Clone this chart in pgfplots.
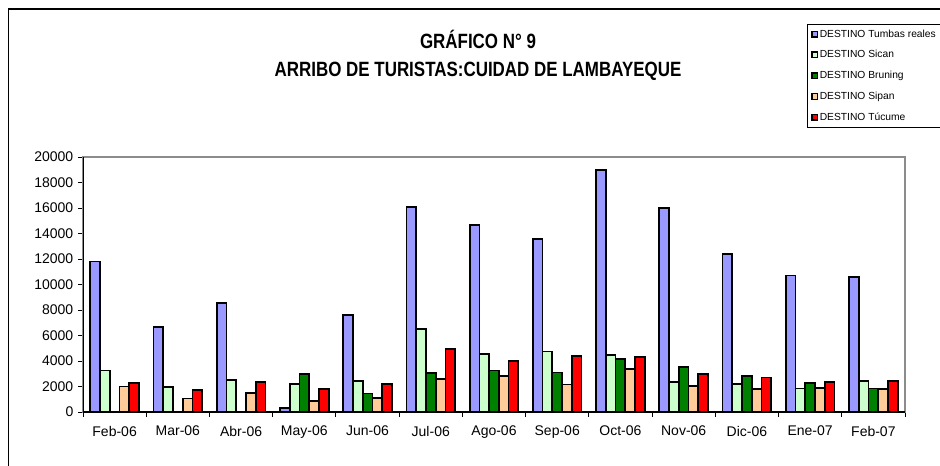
\documentclass[border=0pt]{standalone}
\usepackage{fontspec}
\setmainfont{Liberation Sans}
\newfontfamily\titlefont[FakeStretch=0.82]{Liberation Sans}
\usepackage{pgfplots}
\pgfplotsset{compat=1.18}
\definecolor{cTum}{HTML}{9999FF}
\definecolor{cSic}{HTML}{CCFFCC}
\definecolor{cBru}{HTML}{008000}
\definecolor{cSip}{HTML}{FFCC99}
\definecolor{cTuc}{HTML}{FF0000}
\begin{document}
\begin{tikzpicture}
\path[use as bounding box] (0pt,0pt) rectangle (705pt,348.75pt);
\fill[white] (0pt,0pt) rectangle (705pt,348.75pt);
\draw[black, line width=0.9pt] (6.5pt,-5pt) -- (6.5pt,342pt) -- (710pt,342pt);
\node[font=\titlefont\bfseries\fontsize{15.5}{21}\selectfont, align=center] at (358.5pt,307pt) {GRÁFICO N° 9\\ARRIBO DE TURISTAS:CUIDAD DE LAMBAYEQUE};
\begin{axis}[
  at={(62.25pt,39.75pt)}, anchor=south west,
  scale only axis, width=616.5pt, height=191.25pt,
  ybar=0pt, bar width=0.154,
  xmin=-0.5, xmax=12.5, ymin=0, ymax=20000,
  ytick={0,2000,...,20000},
  scaled y ticks=false,
  /pgf/number format/assume math mode=true,
  yticklabel style={/pgf/number format/fixed, /pgf/number format/1000 sep={}, font=\fontsize{10.5}{12}\selectfont},
  xtick={-0.5,0.5,...,12.5}, xticklabels={},
  extra x ticks={0,1,...,12},
  extra x tick labels={Feb-06,Mar-06,Abr-06,May-06,Jun-06,Jul-06,Ago-06,Sep-06,Oct-06,Nov-06,Dic-06,Ene-07,Feb-07},
  extra x tick style={major tick length=0pt, tick label style={font=\fontsize{10.5}{12}\selectfont, yshift=-7pt}},
  tick pos=left, tick align=outside, major tick length=3.75pt,
  tick style={black, line width=0.75pt},
  axis line style={draw=black!45, line width=1.1pt},
  legend cell align=left,
  legend image code/.code={\draw[#1, line width=1.1pt] (0pt,-2.1pt) rectangle (4.2pt,2.1pt);},
  legend style={at={(0.8808,1.5216)}, anchor=north west, draw=black, line width=0.6pt,
    font=\fontsize{7.7}{8}\selectfont, row sep=6pt, inner xsep=3pt, inner ysep=2.5pt,
    nodes={inner sep=1pt, text height=6pt, text depth=1.6pt}},
]
\addplot[draw=black, line width=1.3pt, fill=cTum] coordinates {(0,11800) (1,6650) (2,8550) (3,300) (4,7600) (5,16100) (6,14650) (7,13550) (8,19000) (9,16000) (10,12400) (11,10700) (12,10600)};
\addplot[draw=black, line width=1.3pt, fill=cSic] coordinates {(0,3250) (1,1950) (2,2500) (3,2200) (4,2450) (5,6500) (6,4550) (7,4750) (8,4450) (9,2350) (10,2200) (11,1850) (12,2450)};
\addplot[draw=black, line width=1.3pt, fill=cBru] coordinates {(3,3000) (4,1450) (5,3050) (6,3250) (7,3100) (8,4150) (9,3550) (10,2850) (11,2250) (12,1850)};
\addplot[draw=black, line width=1.3pt, fill=cSip] coordinates {(0,2000) (1,1050) (2,1500) (3,850) (4,1100) (5,2600) (6,2800) (7,2150) (8,3350) (9,2050) (10,1800) (11,1900) (12,1800)};
\addplot[draw=black, line width=1.3pt, fill=cTuc] coordinates {(0,2300) (1,1700) (2,2350) (3,1800) (4,2200) (5,4950) (6,4000) (7,4400) (8,4300) (9,3000) (10,2700) (11,2350) (12,2450)};
\legend{DESTINO Tumbas reales, DESTINO Sican, DESTINO Bruning, DESTINO Sipan, DESTINO Túcume}
\draw[black, line width=1pt] (rel axis cs:0,1) -- (rel axis cs:0,0) -- (rel axis cs:1,0);
\end{axis}
\end{tikzpicture}
\end{document}
